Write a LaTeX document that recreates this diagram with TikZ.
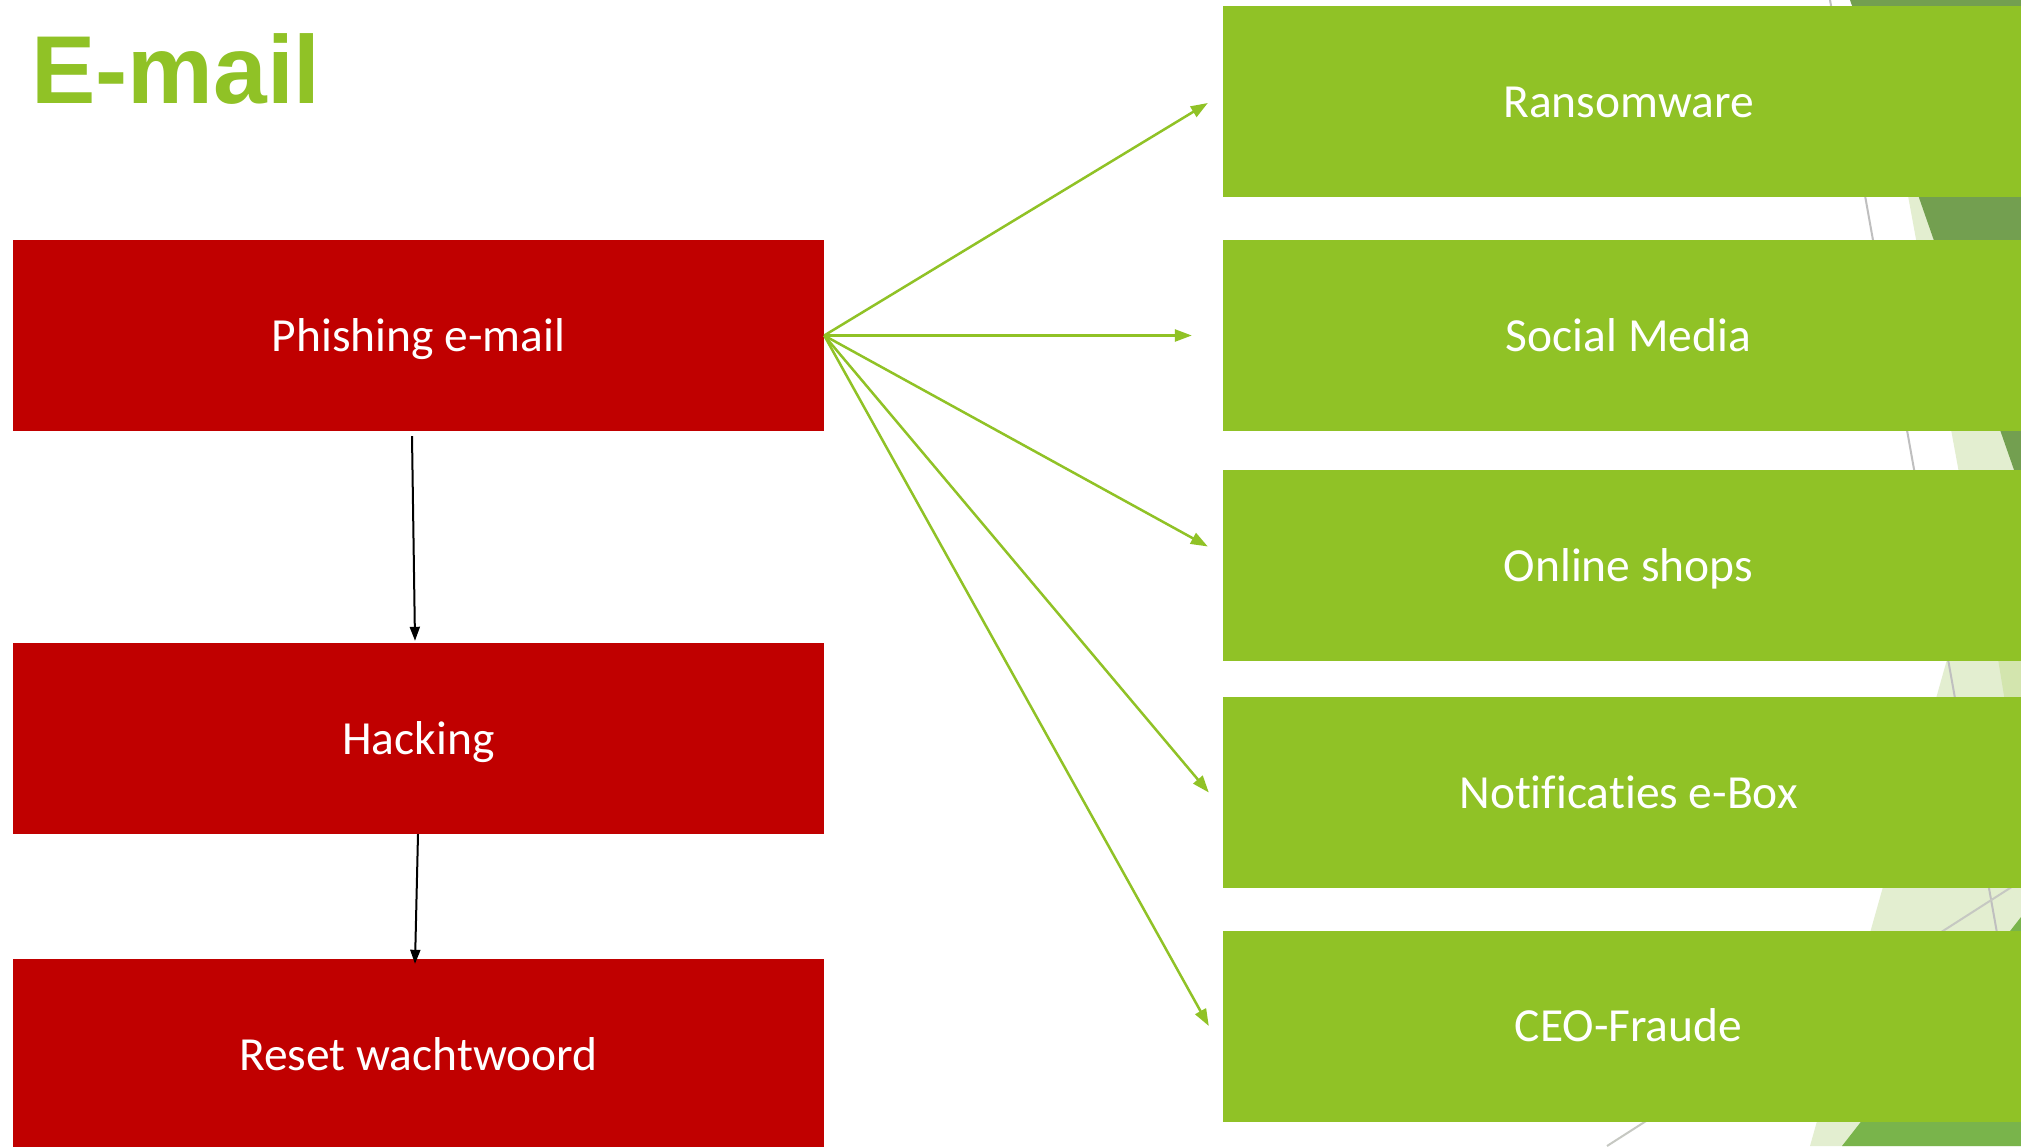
\documentclass[tikz,border=0pt]{standalone}
\usepackage{fontspec}
\setmainfont{Carlito}[Ligatures=NoCommon]
\newfontfamily\titlefont{Liberation Sans}
\usetikzlibrary{arrows.meta}
\definecolor{boxgreen}{HTML}{90C226}
\definecolor{boxred}{HTML}{C00000}
\definecolor{facetdark}{HTML}{739F50}
\definecolor{facetmed}{HTML}{79B44B}
\definecolor{facetlight}{HTML}{E3EED0}
\definecolor{facetlight2}{HTML}{D3E5AE}
\definecolor{facetline}{HTML}{BFBFBF}
\tikzset{
  box/.style={rectangle, draw=none, inner sep=0pt, minimum width=811pt, minimum height=191pt,
    text=white, font=\fontsize{47.5}{56}\selectfont, text height=31pt, text depth=0pt},
  redbox/.style={box, fill=boxred},
  greenbox/.style={box, fill=boxgreen},
  garrow/.style={draw=boxgreen, line width=2.5pt, -{Triangle[length=17pt,width=12pt]}},
  barrow/.style={draw=black, line width=2pt, -{Triangle[length=14pt,width=10pt]}},
}
\begin{document}
\begin{tikzpicture}[x=1pt,y=-1pt]
\useasboundingbox (0,0) rectangle (2021,1146);
\fill[white] (0,0) rectangle (2021,1146);
% background facets
\fill[facetlight] (1872,0) -- (2021,0) -- (2021,1146) -- (1810,1146) -- (1975,560) -- cycle;
\fill[facetlight2] (1990,610) -- (2021,600) -- (2021,800) -- cycle;
\fill[facetdark] (1850,0) -- (2021,0) -- (2021,490) -- cycle;
\fill[facetmed] (1842,1146) -- (2021,917) -- (2021,1146) -- cycle;
\draw[facetline, line width=2pt] (1830,0) -- (2021,1067);
\draw[facetline!80!facetlight, line width=2pt] (1607,1146) -- (2021,881);
% title
\node[anchor=base west, inner sep=0pt, text=boxgreen, font=\titlefont\bfseries\fontsize{96.5}{110}\selectfont] (title) at (31,103) {E-mail};
% red boxes
\node[redbox] (phish) at (418.5,335.5) {Phishing e-mail};
\node[redbox] (hack) at (418.5,738.5) {Hacking};
\node[redbox] (reset) at (418.5,1054.5) {Reset wachtwoord};
% green boxes
\node[greenbox] (ransom) at (1628.5,101.5) {Ransomware};
\node[greenbox] (social) at (1628.5,335.5) {Social Media};
\node[greenbox] (online) at (1628.5,565.5) {Online shops};
\node[greenbox] (notif) at (1628.5,792.5) {Notificaties e-Box};
\node[greenbox] (ceo) at (1628.5,1026) {CEO-Fraude};
% arrows
\draw[garrow] (phish.east) -- ([xshift=-15pt,yshift=-1.5pt]ransom.west);
\draw[garrow] (phish.east) -- ([xshift=-31pt]social.west);
\draw[garrow] (phish.east) -- ([xshift=-15pt,yshift=19pt]online.west);
\draw[garrow] (phish.east) -- ([xshift=-14pt]notif.west);
\draw[garrow] (phish.east) -- ([xshift=-14pt]ceo.west);
\draw[barrow] ([xshift=-6.5pt,yshift=-5pt]phish.south) -- ([xshift=-3.5pt,yshift=2pt]hack.north);
\draw[barrow] ([xshift=-0.5pt]hack.south) -- ([xshift=-3.5pt,yshift=-5pt]reset.north);
\end{tikzpicture}
\end{document}
